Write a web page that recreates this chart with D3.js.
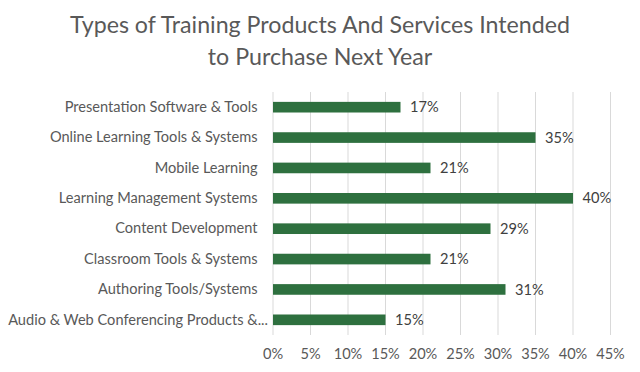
<!DOCTYPE html>
<html>
<head>
<meta charset="utf-8">
<script src="https://cdn.jsdelivr.net/npm/d3@7"></script>
<style>
  body { margin: 0; background: #fff; }
  text { font-family: Lato, "Open Sans", sans-serif; fill: #595959; }
</style>
</head>
<body>
<svg id="chart" width="640" height="372"></svg>
<script>
// chart data
var categories = [
    "Presentation Software & Tools",
    "Online Learning Tools & Systems",
    "Mobile Learning",
    "Learning Management Systems",
    "Content Development",
    "Classroom Tools & Systems",
    "Authoring Tools/Systems",
    "Audio & Web Conferencing Products &..."
];
var values = [17, 35, 21, 40, 29, 21, 31, 15];
var xTicks = [0, 5, 10, 15, 20, 25, 30, 35, 40, 45];
var titleLines = ["Types of Training Products And Services Intended", "to Purchase Next Year"];

var margin = {top: 92, right: 30, bottom: 37, left: 272.5};
var width = 640 - margin.left - margin.right;
var height = 372 - margin.top - margin.bottom;

var svg = d3.select("#chart");

// title
svg.append("text")
    .attr("x", 320)
    .attr("y", 33)
    .attr("text-anchor", "middle")
    .style("font-size", "23.2px")
    .selectAll("tspan")
    .data(titleLines)
    .enter().append("tspan")
    .attr("x", 320)
    .attr("dy", function(d, i) { return i == 0 ? 0 : 32; })
    .text(function(d) { return d; });

var g = svg.append("g")
    .attr("transform", "translate(" + margin.left + "," + margin.top + ")");

var x = d3.scaleLinear()
    .domain([0, 45])
    .range([0, 337.5]);

var y = d3.scaleBand()
    .domain(categories)
    .range([0, height])
    .paddingInner(0.65)
    .paddingOuter(0.325);

// gridlines
g.append("g")
    .attr("class", "grid")
    .selectAll("line")
    .data(xTicks)
    .enter().append("line")
    .attr("x1", function(d) { return x(d) + 0.5; })
    .attr("x2", function(d) { return x(d) + 0.5; })
    .attr("y1", 0)
    .attr("y2", height)
    .attr("stroke", "#d9d9d9")
    .attr("stroke-width", 1);

// x axis labels
var xAxis = d3.axisBottom(x)
    .tickValues(xTicks)
    .tickFormat(function(d) { return d + "%"; })
    .tickSize(0)
    .tickPadding(14);

g.append("g")
    .attr("transform", "translate(0," + height + ")")
    .call(xAxis)
    .call(function(a) { a.select(".domain").remove(); })
    .selectAll("text")
    .style("font-size", "14.6px")
    .attr("fill", "#595959");

// y axis labels
var yAxis = d3.axisLeft(y).tickSize(0).tickPadding(15);

var yG = g.append("g")
    .call(yAxis)
    .call(function(a) { a.select(".domain").remove(); });

yG.selectAll("text")
    .style("font-size", "14.6px")
    .attr("fill", "#595959");

// truncated label sits closer to the axis
yG.selectAll(".tick text")
    .filter(function(d) { return d == categories[categories.length - 1]; })
    .attr("x", -4.5);

// bars
g.selectAll(".bar")
    .data(values)
    .enter().append("rect")
    .attr("class", "bar")
    .attr("x", x(0) + 0.5)
    .attr("y", function(d, i) { return y(categories[i]); })
    .attr("width", function(d) { return x(d) - x(0); })
    .attr("height", y.bandwidth())
    .attr("fill", "#2e703f");

// value labels
g.selectAll(".val")
    .data(values)
    .enter().append("text")
    .attr("class", "val")
    .attr("x", function(d) { return x(d) + 10; })
    .attr("y", function(d, i) { return y(categories[i]) + y.bandwidth() / 2; })
    .attr("dy", "0.35em")
    .style("font-size", "14.6px")
    .style("fill", "#404040")
    .text(function(d) { return d + "%"; });
</script>
</body>
</html>
